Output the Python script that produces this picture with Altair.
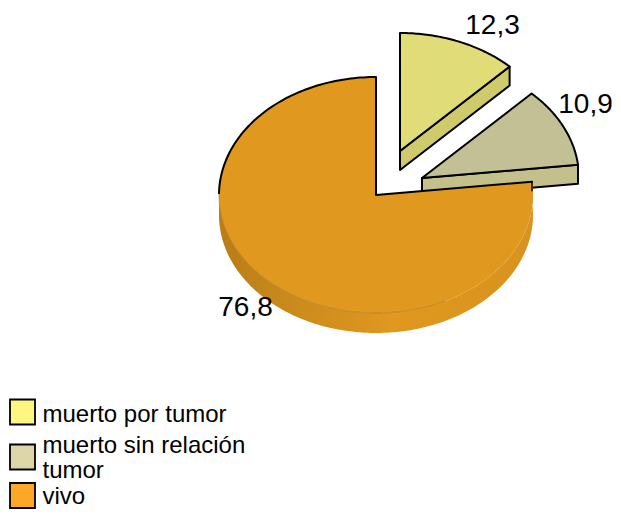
import numpy as np
import pandas as pd
import altair as alt

# Data
categories = ["muerto por tumor", "muerto sin relación tumor", "vivo"]
values = [12.3, 10.9, 76.8]
value_labels = ["12,3", "10,9", "76,8"]
legend_lines = [["muerto por tumor"], ["muerto sin relación", "tumor"], ["vivo"]]

# Colours
legend_colors = ["#FDF680", "#DDD6A9", "#FCA826"]
top_colors = ["#E0DC78", "#C3C096", "#E0981F"]
wall_colors = ["#CFCB6D", "#C3C08C", "#E0981F"]

# Layout (image pixels)
W, H = 605, 502
CX, CY, RX, RY, DEPTH = 376, 195, 157, 118, 20
offsets = [(24, -44), (46, -17), (0, 0)]
label_pos = [(492.5, 34), (585.5, 113), (245.5, 316)]
swatch_y = [412, 457, 495.5]
text_rows = [[422], [453, 478], [504]]

xs = alt.Scale(domain=[8, 8 + W], range=[0, W])
ys = alt.Scale(domain=[8, 8 + H], range=[0, H])


def ell(t, dx=0, dy=0):
    return CX + dx + RX * np.sin(t), CY + dy - RY * np.cos(t)


def shape(px, py, fill=None, stroke=None, sw=0, cap="round"):
    df = pd.DataFrame({"x": px, "y": py, "i": np.arange(len(px))})
    kw = {"fill": fill} if fill is not None else {"fill": None}
    if stroke:
        kw.update(stroke=stroke, strokeWidth=sw, strokeJoin="round", strokeCap=cap)
    else:
        kw.update(strokeWidth=0)
    return alt.Chart(df).mark_line(interpolate="linear", clip=False, **kw).encode(
        x=alt.X("x:Q", scale=xs, axis=None),
        y=alt.Y("y:Q", scale=ys, axis=None),
        order="i:Q",
    )


frac = np.cumsum([0] + values) / sum(values) * 2 * np.pi
layers = []

# exploded slices (yellow, tan)
for k in [0, 1]:
    a0, a1 = frac[k], frac[k + 1]
    dx, dy = offsets[k]
    t = np.linspace(a0, a1, 60)
    ax, ay = ell(t, dx, dy)
    ox, oy = CX + dx, CY + dy
    ex, ey = ax[-1], ay[-1]
    wx = [ox, ex, ex, ox, ox]
    wy = [oy, ey, ey + DEPTH - 1, oy + DEPTH - 1, oy]
    layers.append(shape(wx, wy, wall_colors[k], "black", 2))
    px = np.r_[ox, ax, ox]
    py = np.r_[oy, ay, oy]
    layers.append(shape(px, py, top_colors[k], "black", 2))

# main slice wall
a0, a1 = frac[2], frac[3]
t = np.linspace(a0, a1, 240)
tw = t[t <= 1.5 * np.pi + 0.02]
ax, ay = ell(tw)
wx = np.r_[ax, ax[::-1], ax[0]]
wy = np.r_[ay, ay[::-1] + DEPTH, ay[0]]
grad = alt.LinearGradient(
    gradient="linear", x1=0, x2=1, y1=0, y2=0,
    stops=[
        alt.GradientStop(color="#B97D18", offset=0),
        alt.GradientStop(color="#CC8B1C", offset=0.25),
        alt.GradientStop(color="#E0981F", offset=0.55),
        alt.GradientStop(color="#D8931E", offset=1),
    ],
)
layers.append(shape(wx, wy, grad))

# main slice top
ax, ay = ell(t)
layers.append(shape(np.r_[CX, ax, CX], np.r_[CY, ay, CY], top_colors[2]))
# thin lower rim (left part only)
lower = ell(tw[tw >= np.pi * 0.85])
layers.append(shape(lower[0], lower[1], None, "#A87518", 0.6))
# black outline of the upper rim and the radii
upper = t[t >= 1.5 * np.pi]
ux, uy = ell(upper)
layers.append(shape(np.r_[ux, CX, ell(a0)[0]], np.r_[uy, CY, ell(a0)[1]], None, "black", 2))
ex, ey = ell(a0)
layers.append(shape([ex, ex], [ey, ey + 9], None, "black", 1.4))

# value labels
lab = pd.DataFrame({
    "x": [p[0] for p in label_pos],
    "y": [p[1] for p in label_pos],
    "t": value_labels,
})
layers.append(
    alt.Chart(lab).mark_text(font="Liberation Sans", fontSize=28, color="black", align="center", baseline="alphabetic", clip=False).encode(
        x=alt.X("x:Q", scale=xs, axis=None), y=alt.Y("y:Q", scale=ys, axis=None), text="t:N"
    )
)

# legend
sw = pd.DataFrame({"x": [22.5] * 3, "y": swatch_y, "c": categories})
layers.append(
    alt.Chart(sw).mark_square(size=625, opacity=1, stroke="black", strokeWidth=1.8).encode(
        x=alt.X("x:Q", scale=xs, axis=None),
        y=alt.Y("y:Q", scale=ys, axis=None),
        fill=alt.Fill("c:N", scale=alt.Scale(domain=categories, range=legend_colors), legend=None),
    )
)
rows = [(ln, yy) for lines, yrow in zip(legend_lines, text_rows) for ln, yy in zip(lines, yrow)]
leg = pd.DataFrame({"x": [42.5] * len(rows), "y": [r[1] for r in rows], "t": [r[0] for r in rows]})
layers.append(
    alt.Chart(leg).mark_text(font="Liberation Sans", fontSize=24, color="black", align="left", baseline="alphabetic").encode(
        x=alt.X("x:Q", scale=xs, axis=None), y=alt.Y("y:Q", scale=ys, axis=None), text="t:N"
    )
)

chart = (
    alt.layer(*layers)
    .properties(width=W, height=H, padding=0, autosize=alt.AutoSizeParams(type="none"))
    .configure_view(stroke=None)
)
chart.save("out.html", embed_options={"renderer": "svg", "actions": False})
